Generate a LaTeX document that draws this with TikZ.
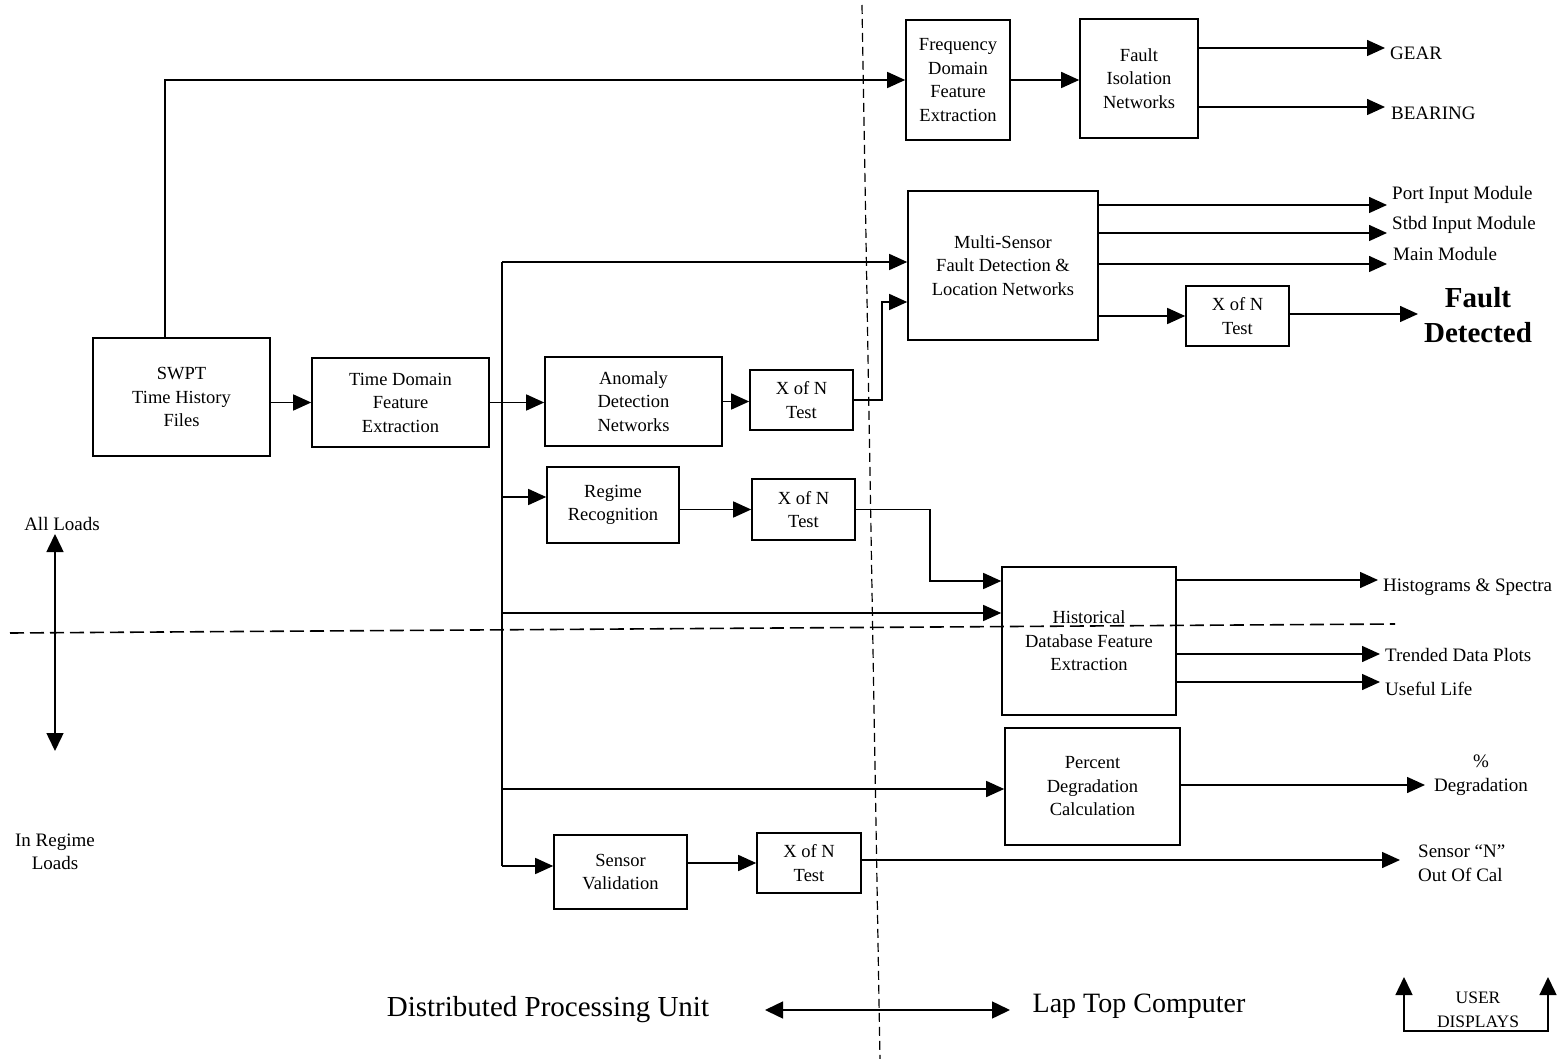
\documentclass[tikz,border=0pt]{standalone}
\usepackage{fontspec}
\setmainfont{Liberation Serif}
\usetikzlibrary{arrows.meta,calc}
\begin{document}
\begin{tikzpicture}[x=1pt,y=-1pt,
  box/.style={draw, line width=1.6pt, align=center, inner sep=0pt, font=\fontsize{18.5}{23.5}\selectfont},
  conn/.style={line width=1.5pt},
  arr/.style={conn, -{Triangle[length=18pt,width=16pt]}},
  darr/.style={conn, {Triangle[length=18pt,width=17pt]}-{Triangle[length=18pt,width=17pt]}},
  lbl/.style={font=\fontsize{19}{23.5}\selectfont, inner sep=0pt, align=center},
  outlbl/.style={lbl, anchor=west, align=left},
  divider/.style={line width=1.2pt, dash pattern=on 9pt off 5pt},
  hdivider/.style={line width=1.6pt, dash pattern=on 14pt off 6pt},
]
\useasboundingbox (0,0) rectangle (1564,1059);

% dividers
\coordinate (v1) at (862,5);
\coordinate (v2) at (880,1059);
\draw[divider] (v1) -- (v2);
\coordinate (h1) at (10,633);
\coordinate (h2) at (1395,624);
\draw[hdivider] (h1) -- (h2);

% boxes
\node[box, minimum width=177pt, minimum height=118pt] (swpt) at (181.5,397) {SWPT\\Time History\\Files};
\node[box, minimum width=177pt, minimum height=89pt] (td) at (400.5,402.5) {Time Domain\\Feature\\Extraction};
\node[box, minimum width=177pt, minimum height=89pt] (anom) at (633.5,401.5) {Anomaly\\Detection\\Networks};
\node[box, minimum width=103pt, minimum height=60pt] (x1) at (801.5,400) {X of N\\Test};
\node[box, minimum width=132pt, minimum height=76pt] (reg) at (613,505) {Regime\\Recognition};
\node[box, minimum width=103pt, minimum height=61pt] (x2) at (803.5,509.5) {X of N\\Test};
\node[box, minimum width=133pt, minimum height=74pt] (sv) at (620.5,872) {Sensor\\Validation};
\node[box, minimum width=104pt, minimum height=60pt] (x3) at (809,863) {X of N\\Test};
\node[box, minimum width=104pt, minimum height=120pt] (freq) at (958,80) {Frequency\\Domain\\Feature\\Extraction};
\node[box, minimum width=118pt, minimum height=119pt] (fiso) at (1139,78.5) {Fault\\Isolation\\Networks};
\node[box, minimum width=190pt, minimum height=149pt] (ms) at (1003,265.5) {Multi-Sensor\\Fault Detection \&\\Location Networks};
\node[box, minimum width=103pt, minimum height=60pt] (x4) at (1237.5,316) {X of N\\Test};
\node[box, minimum width=174pt, minimum height=148pt] (hist) at (1089,641) {Historical\\Database Feature\\Extraction};
\node[box, minimum width=175pt, minimum height=117pt] (pct) at (1092.5,786.5) {Percent\\Degradation\\Calculation};

% output labels
\node[outlbl] (gear) at (1390,53) {GEAR};
\node[outlbl] (bear) at (1391,113) {BEARING};
\node[outlbl] (port) at (1392,195) {Port Input Module};
\node[outlbl] (stbd) at (1392,225) {Stbd Input Module};
\node[outlbl] (mainm) at (1393,254) {Main Module};
\node[lbl, font=\fontsize{29}{35}\selectfont\bfseries] (fdet) at (1478,315) {Fault\\Detected};
\node[outlbl] (histo) at (1383,587) {Histograms \& Spectra};
\node[outlbl] (trend) at (1385,655) {Trended Data Plots};
\node[outlbl] (life) at (1385,689) {Useful Life};
\node[lbl, font=\fontsize{19}{24}\selectfont] (degr) at (1481,775) {\%\\Degradation};
\node[outlbl, font=\fontsize{19}{24}\selectfont] (sensn) at (1418,863) {Sensor “N”\\Out Of Cal};

% arrow tips
\coordinate (tGear) at (1385,48);
\coordinate (tBear) at (1385,107);
\coordinate (tPort) at (1387,205);
\coordinate (tStbd) at (1387,233);
\coordinate (tMain) at (1387,264);
\coordinate (tFdet) at (1418,314);
\coordinate (tHist) at (1378,580);
\coordinate (tTrend) at (1380,654);
\coordinate (tLife) at (1380,682);
\coordinate (tDegr) at (1425,785);
\coordinate (tSens) at (1400,860);

% main flow
\coordinate (up) at (165,0);
\draw[arr] (swpt.north -| up) |- (freq.west);
\draw[arr] (swpt.east |- td.west) -- (td.west);
\draw[arr] (td.east) -- (td.east -| anom.west);
\coordinate (ttop) at (502,262);
\coordinate (tbot) at (502,866);
\draw[conn] (ttop) -- (tbot);
\draw[arr] (ttop) -- (ttop -| ms.west);
\draw[arr] (ttop |- 0,497) -- (reg.west |- 0,497);
\draw[arr] (ttop |- 0,613) -- (hist.west |- 0,613);
\draw[arr] (ttop |- 0,789) -- (pct.west |- 0,789);
\draw[arr] (tbot) -- (tbot -| sv.west);

\draw[arr] (anom.east) -- (anom.east -| x1.west);
\coordinate (j1) at (882,302);
\draw[arr] (x1.east) -| (j1) -- (j1 -| ms.west);
\draw[arr] (reg.east |- x2.west) -- (x2.west);
\coordinate (j2) at (930,581);
\draw[arr] (x2.east) -| (j2) -- (j2 -| hist.west);
\draw[arr] (sv.east |- x3.west) -- (x3.west);
\draw[arr] (x3.east |- tSens) -- (tSens);

\draw[arr] (freq.east) -- (freq.east -| fiso.west);
\draw[arr] (fiso.east |- tGear) -- (tGear);
\draw[arr] (fiso.east |- tBear) -- (tBear);
\draw[arr] (ms.east |- tPort) -- (tPort);
\draw[arr] (ms.east |- tStbd) -- (tStbd);
\draw[arr] (ms.east |- tMain) -- (tMain);
\draw[arr] (ms.east |- x4.west) -- (x4.west);
\draw[arr] (x4.east |- tFdet) -- (tFdet);
\draw[arr] (hist.east |- tHist) -- (tHist);
\draw[arr] (hist.east |- tTrend) -- (tTrend);
\draw[arr] (hist.east |- tLife) -- (tLife);
\draw[arr] (pct.east |- tDegr) -- (tDegr);

% left load indicator
\node[lbl] (allloads) at (62,524) {All Loads};
\node[lbl] (inreg) at (55,852) {In Regime\\Loads};
\coordinate (la1) at (55,534);
\coordinate (la2) at (55,751);
\draw[darr] (la1) -- (la2);

% bottom
\node[lbl, font=\fontsize{29}{34}\selectfont] (dpu) at (548,1010) {Distributed Processing Unit};
\node[lbl, font=\fontsize{28}{34}\selectfont] (ltc) at (1139,1006) {Lap Top Computer};
\coordinate (ba1) at (765,1010);
\coordinate (ba2) at (1010,1010);
\draw[darr] (ba1) -- (ba2);

\node[lbl, font=\fontsize{17.5}{24}\selectfont] (ud) at (1478,1010) {USER\\DISPLAYS};
\coordinate (u1) at (1404,977);
\coordinate (u2) at (1404,1031);
\coordinate (u3) at (1548,1031);
\coordinate (u4) at (1548,977);
\draw[darr] (u1) -- (u2) -- (u3) -- (u4);
\end{tikzpicture}
\end{document}
